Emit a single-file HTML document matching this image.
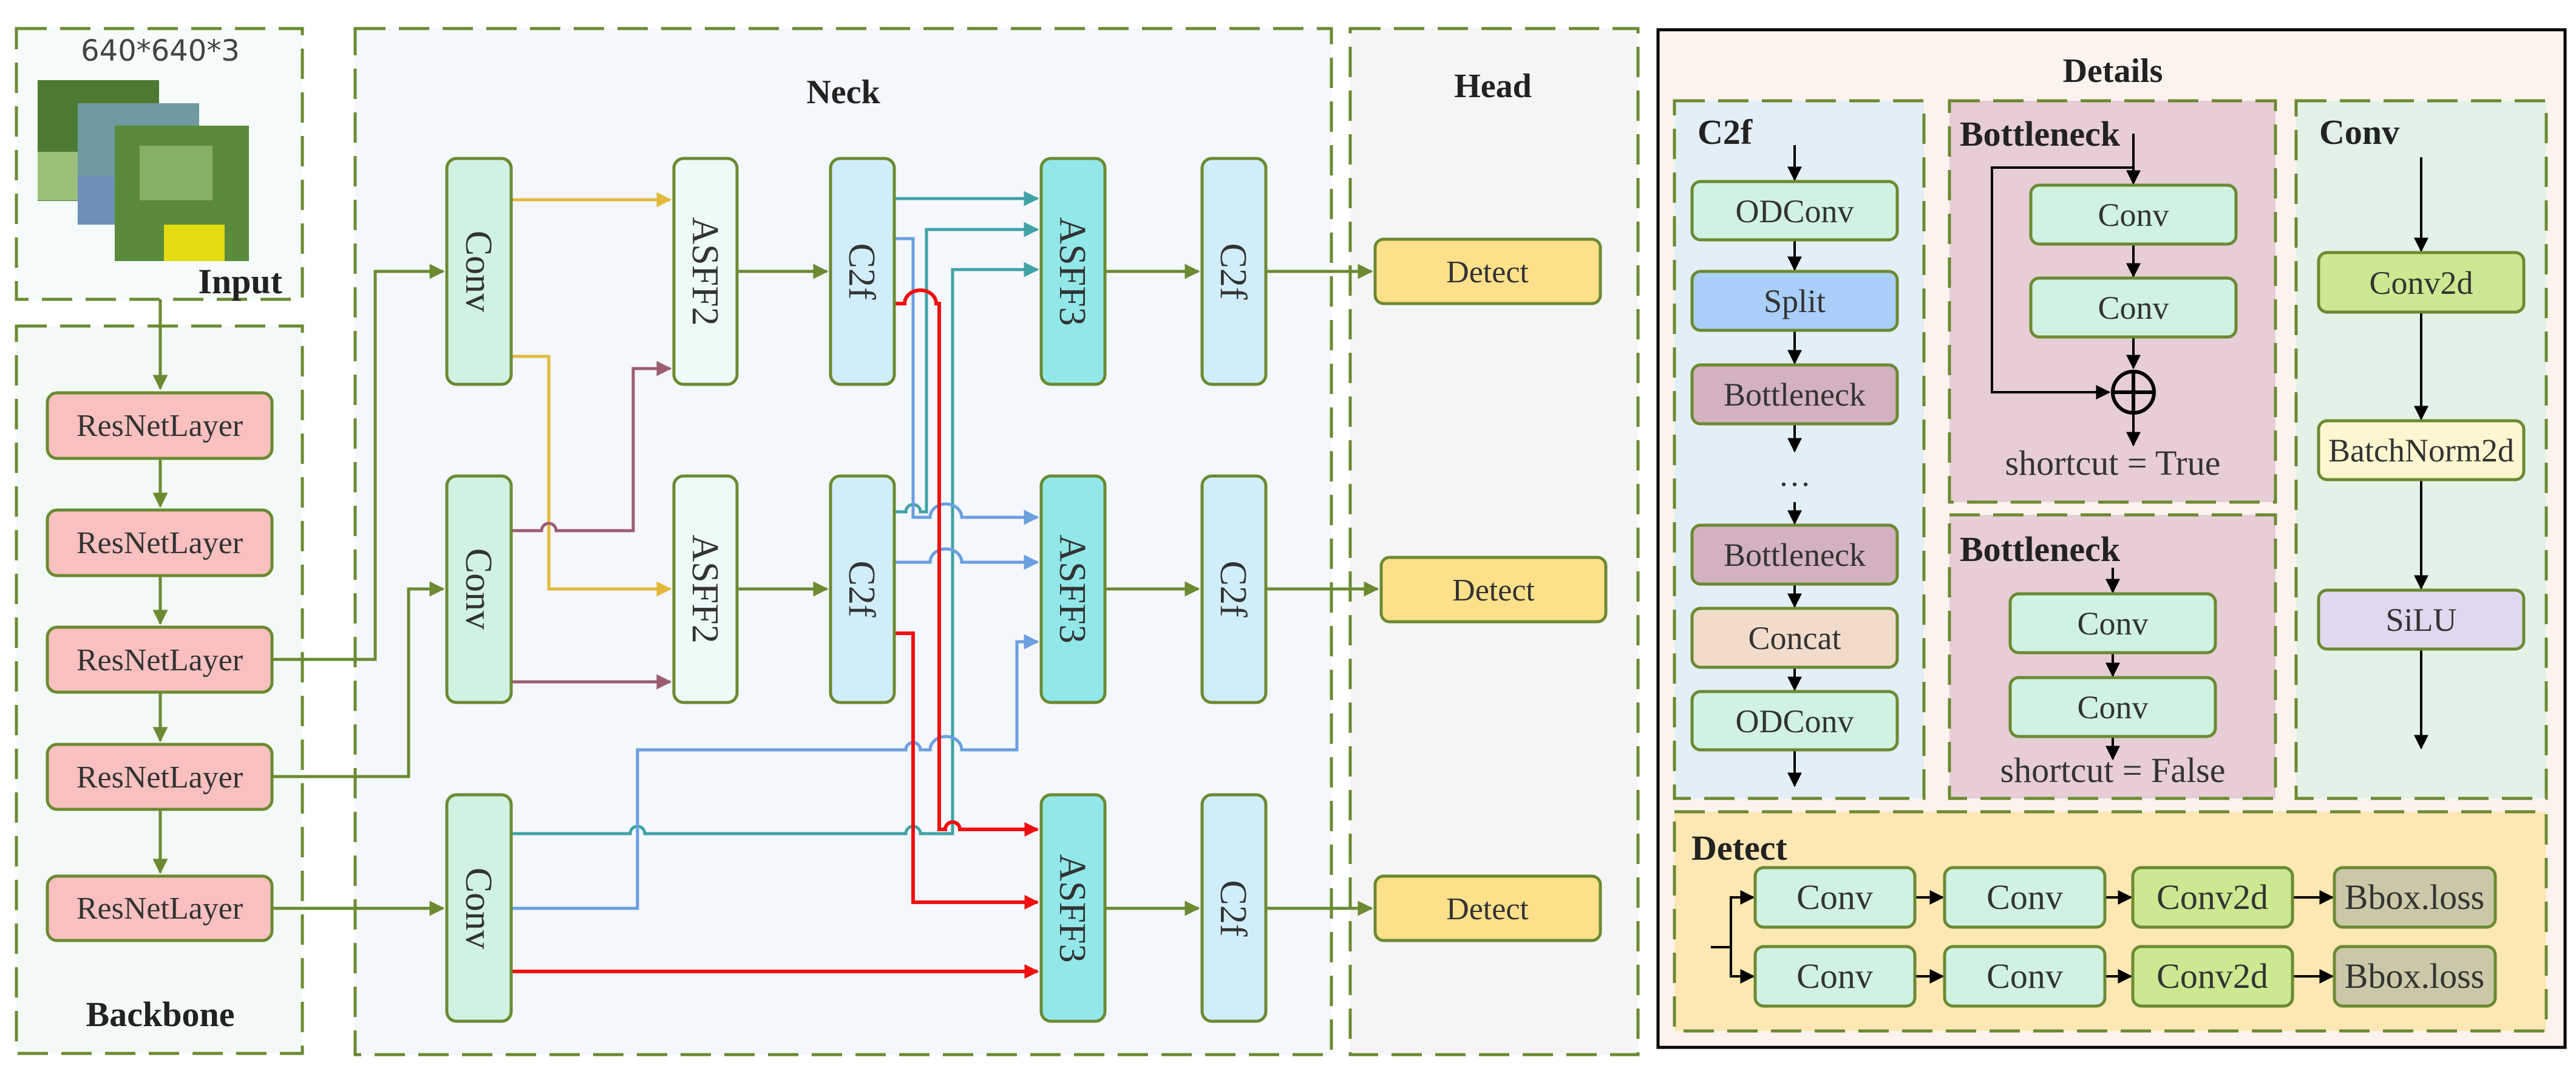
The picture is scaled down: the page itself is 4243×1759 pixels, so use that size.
<!DOCTYPE html>
<html><head><meta charset="utf-8"><style>
html,body{margin:0;padding:0;background:#fff}
svg{display:block}
text{font-family:"Liberation Serif",serif;fill:#333}
.b{font-weight:bold;fill:#222}
</style></head><body>
<svg width="4243" height="1759" viewBox="0 0 4243 1759" xmlns="http://www.w3.org/2000/svg">
<defs>
<marker id="ag" viewBox="0 0 10 10" refX="9" refY="5" markerWidth="5" markerHeight="5" orient="auto" markerUnits="strokeWidth"><path d="M0,0L10,5L0,10z" fill="#6b8a32"/></marker>
<marker id="ay" viewBox="0 0 10 10" refX="9" refY="5" markerWidth="5" markerHeight="5" orient="auto" markerUnits="strokeWidth"><path d="M0,0L10,5L0,10z" fill="#e3b93c"/></marker>
<marker id="am" viewBox="0 0 10 10" refX="9" refY="5" markerWidth="5" markerHeight="5" orient="auto" markerUnits="strokeWidth"><path d="M0,0L10,5L0,10z" fill="#9a5e70"/></marker>
<marker id="at" viewBox="0 0 10 10" refX="9" refY="5" markerWidth="5" markerHeight="5" orient="auto" markerUnits="strokeWidth"><path d="M0,0L10,5L0,10z" fill="#3fa3a6"/></marker>
<marker id="ab" viewBox="0 0 10 10" refX="9" refY="5" markerWidth="5" markerHeight="5" orient="auto" markerUnits="strokeWidth"><path d="M0,0L10,5L0,10z" fill="#6a9fe0"/></marker>
<marker id="ar" viewBox="0 0 10 10" refX="9" refY="5" markerWidth="4" markerHeight="4" orient="auto" markerUnits="strokeWidth"><path d="M0,0L10,5L0,10z" fill="#f01010"/></marker>
<marker id="ak" viewBox="0 0 10 10" refX="9" refY="5" markerWidth="6" markerHeight="6" orient="auto" markerUnits="strokeWidth"><path d="M0,0L10,5L0,10z" fill="#000"/></marker>
</defs>

<g stroke="#6b8a32" stroke-width="5" stroke-dasharray="50,22">
<rect x="27" y="47" width="471" height="446" fill="#f5fbfb"/>
<rect x="27" y="537" width="471" height="1198" fill="#f3faf6"/>
<rect x="585" y="47" width="1608" height="1690" fill="#f4f7fc"/>
<rect x="2224" y="47" width="474" height="1690" fill="#f5f5f5"/>
</g>
<rect x="2731" y="49" width="1494" height="1676" fill="#fdf3ee" stroke="#000" stroke-width="5"/>
<g stroke="#6b8a32" stroke-width="5" stroke-dasharray="50,22">
<rect x="2758" y="166" width="411" height="1149" fill="#e3eff7"/>
<rect x="3211" y="166" width="537" height="661" fill="#e6cdd6"/>
<rect x="3211" y="848" width="537" height="467" fill="#e6cdd6"/>
<rect x="3782" y="166" width="412" height="1149" fill="#e3f2e7"/>
<rect x="2758" y="1337" width="1436" height="361" fill="#fde7b3"/>
</g>

<text x="264" y="100" text-anchor="middle" style="font-family:'DejaVu Sans',sans-serif;font-size:48px;fill:#444">640*640*3</text>
<rect x="62" y="132" width="200" height="199" fill="#4d7a32"/>
<rect x="62" y="250" width="70" height="80" fill="#9cbf7a"/>
<rect x="128" y="170" width="200" height="200" fill="#6f9aa0"/>
<rect x="128" y="290" width="60" height="80" fill="#6d8fb8"/>
<rect x="189" y="207" width="221" height="223" fill="#5a8a3a"/>
<rect x="230" y="240" width="120" height="90" fill="#87b066"/>
<rect x="270" y="370" width="100" height="60" fill="#e4dc10"/>
<text x="465" y="483" text-anchor="end" class="b" style="font-size:58px">Input</text>
<text x="264" y="1690" text-anchor="middle" class="b" style="font-size:58px">Backbone</text>
<text x="1389" y="170" text-anchor="middle" class="b" style="font-size:56px">Neck</text>
<text x="2459" y="160" text-anchor="middle" class="b" style="font-size:56px">Head</text>
<text x="3480" y="135" text-anchor="middle" class="b" style="font-size:56px">Details</text>

<g fill="none" stroke-width="5">
<path d="M264,493V640" stroke="#6b8a32" marker-end="url(#ag)"/>
<path d="M264,755V834" stroke="#6b8a32" marker-end="url(#ag)"/>
<path d="M264,948V1027" stroke="#6b8a32" marker-end="url(#ag)"/>
<path d="M264,1140V1220" stroke="#6b8a32" marker-end="url(#ag)"/>
<path d="M264,1333V1437" stroke="#6b8a32" marker-end="url(#ag)"/>
<path d="M448,1086H618V447H730" stroke="#6b8a32" marker-end="url(#ag)"/>
<path d="M448,1279H673V970H730" stroke="#6b8a32" marker-end="url(#ag)"/>
<path d="M448,1496H730" stroke="#6b8a32" marker-end="url(#ag)"/>
<path d="M842,329H1104" stroke="#e3b93c" marker-end="url(#ay)"/>
<path d="M842,587H904V970H1104" stroke="#e3b93c" marker-end="url(#ay)"/>
<path d="M842,874H892a12,12 0 0 1 24,0H1043V607H1104" stroke="#9a5e70" marker-end="url(#am)"/>
<path d="M842,1123H1104" stroke="#9a5e70" marker-end="url(#am)"/>
<path d="M1214,447H1362" stroke="#6b8a32" marker-end="url(#ag)"/>
<path d="M1214,970H1362" stroke="#6b8a32" marker-end="url(#ag)"/>
<path d="M1820,447H1974" stroke="#6b8a32" marker-end="url(#ag)"/>
<path d="M1820,970H1974" stroke="#6b8a32" marker-end="url(#ag)"/>
<path d="M1820,1496H1974" stroke="#6b8a32" marker-end="url(#ag)"/>
<path d="M2085,447H2259" stroke="#6b8a32" marker-end="url(#ag)"/>
<path d="M2085,970H2269" stroke="#6b8a32" marker-end="url(#ag)"/>
<path d="M2085,1496H2259" stroke="#6b8a32" marker-end="url(#ag)"/>

<path d="M1473,327H1709" stroke="#3fa3a6" marker-end="url(#at)"/>
<path d="M1473,843H1492a12,12 0 0 1 24,0H1526V378H1709" stroke="#3fa3a6" marker-end="url(#at)"/>
<path d="M842,1373H1038a12,12 0 0 1 24,0H1492a12,12 0 0 1 24,0H1569V444H1709" stroke="#3fa3a6" marker-end="url(#at)"/>
<path d="M1473,393H1504V852H1532a26,22 0 0 1 52,0H1709" stroke="#6a9fe0" marker-end="url(#ab)"/>
<path d="M1473,926H1532a26,22 0 0 1 52,0H1709" stroke="#6a9fe0" marker-end="url(#ab)"/>
<path d="M842,1496H1050V1235H1492a12,12 0 0 1 24,0H1532a26,22 0 0 1 52,0H1675V1057H1709" stroke="#6a9fe0" marker-end="url(#ab)"/>
<path d="M1473,500H1490a26,22 0 0 1 52,0H1547V1366H1557a12,12 0 0 1 24,0H1709" stroke="#f01010" stroke-width="6" marker-end="url(#ar)"/>
<path d="M1473,1043H1504V1486H1709" stroke="#f01010" stroke-width="6" marker-end="url(#ar)"/>
<path d="M842,1600H1709" stroke="#f01010" stroke-width="6" marker-end="url(#ar)"/>
</g>

<g stroke="#6b8a32" stroke-width="5">
<rect x="78" y="647" width="370" height="108" rx="16" fill="#f9c0c0"/>
<rect x="78" y="840" width="370" height="108" rx="16" fill="#f9c0c0"/>
<rect x="78" y="1033" width="370" height="107" rx="16" fill="#f9c0c0"/>
<rect x="78" y="1226" width="370" height="107" rx="16" fill="#f9c0c0"/>
<rect x="78" y="1443" width="370" height="106" rx="16" fill="#f9c0c0"/>
<rect x="736" y="261" width="106" height="372" rx="16" fill="#d0f2e2"/>
<rect x="736" y="784" width="106" height="373" rx="16" fill="#d0f2e2"/>
<rect x="736" y="1309" width="106" height="373" rx="16" fill="#d0f2e2"/>
<rect x="1110" y="261" width="104" height="372" rx="16" fill="#eefaf8"/>
<rect x="1110" y="784" width="104" height="373" rx="16" fill="#eefaf8"/>
<rect x="1368" y="261" width="105" height="372" rx="16" fill="#d0eefa"/>
<rect x="1368" y="784" width="105" height="373" rx="16" fill="#d0eefa"/>
<rect x="1715" y="261" width="105" height="372" rx="16" fill="#92e8e8"/>
<rect x="1715" y="784" width="105" height="373" rx="16" fill="#92e8e8"/>
<rect x="1715" y="1309" width="105" height="373" rx="16" fill="#92e8e8"/>
<rect x="1980" y="261" width="105" height="372" rx="16" fill="#d0eefa"/>
<rect x="1980" y="784" width="105" height="373" rx="16" fill="#d0eefa"/>
<rect x="1980" y="1309" width="105" height="373" rx="16" fill="#d0eefa"/>
<rect x="2265" y="394" width="371" height="106" rx="14" fill="#fde08a"/>
<rect x="2275" y="918" width="370" height="106" rx="14" fill="#fde08a"/>
<rect x="2265" y="1443" width="371" height="106" rx="14" fill="#fde08a"/>
</g>
<g style="font-size:52px">
<text x="263" y="718" text-anchor="middle">ResNetLayer</text>
<text x="263" y="911" text-anchor="middle">ResNetLayer</text>
<text x="263" y="1104" text-anchor="middle">ResNetLayer</text>
<text x="263" y="1297" text-anchor="middle">ResNetLayer</text>
<text x="263" y="1513" text-anchor="middle">ResNetLayer</text>
<text x="2450" y="465" text-anchor="middle">Detect</text>
<text x="2460" y="989" text-anchor="middle">Detect</text>
<text x="2450" y="1514" text-anchor="middle">Detect</text>
</g>
<g style="font-size:62px" text-anchor="middle">
<text transform="translate(768,447) rotate(90)">Conv</text>
<text transform="translate(768,970) rotate(90)">Conv</text>
<text transform="translate(768,1496) rotate(90)">Conv</text>
<text transform="translate(1141,447) rotate(90)">ASFF2</text>
<text transform="translate(1141,970) rotate(90)">ASFF2</text>
<text transform="translate(1399,447) rotate(90)">C2f</text>
<text transform="translate(1399,970) rotate(90)">C2f</text>
<text transform="translate(1746,447) rotate(90)">ASFF3</text>
<text transform="translate(1746,970) rotate(90)">ASFF3</text>
<text transform="translate(1746,1496) rotate(90)">ASFF3</text>
<text transform="translate(2011,447) rotate(90)">C2f</text>
<text transform="translate(2011,970) rotate(90)">C2f</text>
<text transform="translate(2011,1496) rotate(90)">C2f</text>
</g>

<g style="font-size:58px">
<text x="2796" y="237" class="b">C2f</text>
<text x="3228" y="240" class="b">Bottleneck</text>
<text x="3228" y="924" class="b">Bottleneck</text>
<text x="3820" y="237" class="b">Conv</text>
<text x="2786" y="1416" class="b">Detect</text>
</g>

<g stroke="#000" stroke-width="4" fill="none">
<path d="M2956,239V296" marker-end="url(#ak)"/>
<path d="M2956,395V444" marker-end="url(#ak)"/>
<path d="M2956,544V598" marker-end="url(#ak)"/>
<path d="M2956,698V743" marker-end="url(#ak)"/>
<path d="M2956,827V862" marker-end="url(#ak)"/>
<path d="M2956,962V999" marker-end="url(#ak)"/>
<path d="M2956,1099V1136" marker-end="url(#ak)"/>
<path d="M2956,1235V1294" marker-end="url(#ak)"/>
<path d="M3514,220V302" marker-end="url(#ak)"/>
<path d="M3514,276H3281V646H3474" marker-end="url(#ak)"/>
<path d="M3514,402V455" marker-end="url(#ak)"/>
<path d="M3514,555V606" marker-end="url(#ak)"/>
<path d="M3514,682V733" marker-end="url(#ak)"/>
<path d="M3480,935V975" marker-end="url(#ak)"/>
<path d="M3480,1075V1113" marker-end="url(#ak)"/>
<path d="M3480,1213V1250" marker-end="url(#ak)"/>
<path d="M3988,259V413" marker-end="url(#ak)"/>
<path d="M3988,514V690" marker-end="url(#ak)"/>
<path d="M3988,790V969" marker-end="url(#ak)"/>
<path d="M3988,1069V1232" marker-end="url(#ak)"/>
<path d="M2818,1560H2851V1478H2888" marker-end="url(#ak)"/>
<path d="M2851,1560V1608H2888" marker-end="url(#ak)"/>
<path d="M3154,1478H3200" marker-end="url(#ak)"/>
<path d="M3154,1608H3200" marker-end="url(#ak)"/>
<path d="M3467,1478H3510" marker-end="url(#ak)"/>
<path d="M3467,1608H3510" marker-end="url(#ak)"/>
<path d="M3776,1478H3842" marker-end="url(#ak)"/>
<path d="M3776,1608H3842" marker-end="url(#ak)"/>
</g>
<circle cx="3514" cy="646" r="34" fill="none" stroke="#000" stroke-width="6"/>
<path d="M3514,612V680M3480,646H3548" stroke="#000" stroke-width="6"/>

<g stroke="#6b8a32" stroke-width="5">
<rect x="2787" y="299" width="338" height="96" rx="14" fill="#d0f2e2"/>
<rect x="2787" y="447" width="338" height="97" rx="14" fill="#a9cff8"/>
<rect x="2787" y="601" width="338" height="97" rx="14" fill="#d3b1c0"/>
<rect x="2787" y="865" width="338" height="97" rx="14" fill="#d3b1c0"/>
<rect x="2787" y="1002" width="338" height="97" rx="14" fill="#f1dccc"/>
<rect x="2787" y="1139" width="338" height="96" rx="14" fill="#d0f2e2"/>
<rect x="3345" y="305" width="338" height="97" rx="14" fill="#d0f2e2"/>
<rect x="3345" y="458" width="338" height="97" rx="14" fill="#d0f2e2"/>
<rect x="3311" y="978" width="338" height="97" rx="14" fill="#d0f2e2"/>
<rect x="3311" y="1116" width="338" height="97" rx="14" fill="#d0f2e2"/>
<rect x="3819" y="416" width="338" height="98" rx="14" fill="#cce890"/>
<rect x="3819" y="693" width="338" height="97" rx="14" fill="#fdf6d0"/>
<rect x="3819" y="972" width="338" height="97" rx="14" fill="#e0d8ee"/>
<rect x="2891" y="1429" width="263" height="98" rx="14" fill="#d0f2e2"/>
<rect x="3203" y="1429" width="264" height="98" rx="14" fill="#d0f2e2"/>
<rect x="3513" y="1429" width="263" height="98" rx="14" fill="#cce890"/>
<rect x="3845" y="1429" width="265" height="98" rx="14" fill="#cbc8a8"/>
<rect x="2891" y="1559" width="263" height="98" rx="14" fill="#d0f2e2"/>
<rect x="3203" y="1559" width="264" height="98" rx="14" fill="#d0f2e2"/>
<rect x="3513" y="1559" width="263" height="98" rx="14" fill="#cce890"/>
<rect x="3845" y="1559" width="265" height="98" rx="14" fill="#cbc8a8"/>
</g>
<g style="font-size:54px" text-anchor="middle">
<text x="2956" y="366">ODConv</text>
<text x="2956" y="514">Split</text>
<text x="2956" y="668">Bottleneck</text>
<text x="2956" y="800">…</text>
<text x="2956" y="932">Bottleneck</text>
<text x="2956" y="1069">Concat</text>
<text x="2956" y="1206">ODConv</text>
<text x="3514" y="372">Conv</text>
<text x="3514" y="525">Conv</text>
<text x="3480" y="782" style="font-size:58px">shortcut = True</text>
<text x="3480" y="1045">Conv</text>
<text x="3480" y="1183">Conv</text>
<text x="3480" y="1288" style="font-size:58px">shortcut = False</text>
<text x="3988" y="484">Conv2d</text>
<text x="3988" y="760">BatchNorm2d</text>
<text x="3988" y="1039">SiLU</text>
<text x="3022" y="1497" style="font-size:58px">Conv</text>
<text x="3335" y="1497" style="font-size:58px">Conv</text>
<text x="3644" y="1497" style="font-size:58px">Conv2d</text>
<text x="3977" y="1497" style="font-size:58px">Bbox.loss</text>
<text x="3022" y="1627" style="font-size:58px">Conv</text>
<text x="3335" y="1627" style="font-size:58px">Conv</text>
<text x="3644" y="1627" style="font-size:58px">Conv2d</text>
<text x="3977" y="1627" style="font-size:58px">Bbox.loss</text>
</g>
</svg>
</body></html>
